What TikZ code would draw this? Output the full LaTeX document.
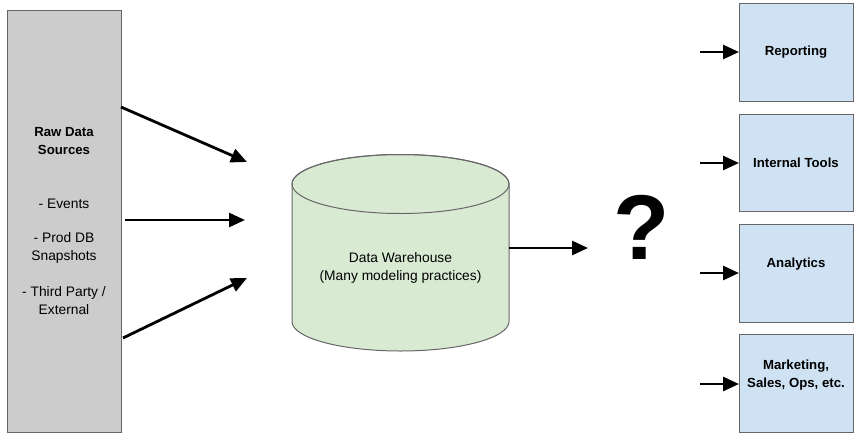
\documentclass[tikz,border=0pt]{standalone}
\usepackage{fontspec}
\setmainfont{Liberation Sans}
\usetikzlibrary{arrows.meta}
\definecolor{srcgray}{HTML}{CCCCCC}
\definecolor{dwgreen}{HTML}{D9EAD3}
\definecolor{outblue}{HTML}{CFE2F3}
\definecolor{edgegray}{HTML}{666666}
\begin{document}
\begin{tikzpicture}[x=1pt,y=-1pt,
  box/.style={draw=edgegray,line width=1pt,inner sep=0pt,anchor=north west},
  flow/.style={line width=2.8pt,-{Triangle[length=16pt,width=14pt]}},
  lbl/.style={font=\fontsize{13.8}{18}\selectfont,align=center},
  blbl/.style={font=\fontsize{13.2}{18}\selectfont\bfseries,align=center}]
\useasboundingbox (0,0) rectangle (866,445);
% left source box
\node[box,fill=srcgray,minimum width=114pt,minimum height=422pt] (src) at (7,10) {};
\node[blbl] (srct) at (64,141.5) {Raw Data\\Sources};
\node[lbl] (ev) at (64,204) {- Events};
\node[lbl] (pd) at (64,248) {- Prod DB\\Snapshots};
\node[lbl] (tp) at (64,301) {- Third Party /\\External};
% cylinder
\filldraw[draw=edgegray,line width=1pt,fill=dwgreen]
  (292,184) -- (292,321.5) arc[start angle=180,end angle=360,x radius=108.5pt,y radius=29.5pt]
  -- (509,184) arc[start angle=0,end angle=180,x radius=108.5pt,y radius=29.5pt] -- cycle;
\draw[edgegray,line width=1pt] (400.5,184) ellipse[x radius=108.5pt,y radius=29.5pt];
\node[lbl] (dw) at (400.5,267.5) {Data Warehouse\\(Many modeling practices)};
% input arrows
\coordinate (a1s) at (121,107); \coordinate (a1e) at (247,162);
\coordinate (a2s) at (125,220); \coordinate (a2e) at (245,220);
\coordinate (a3s) at (123,338); \coordinate (a3e) at (247,278);
\draw[flow] (a1s) -- (a1e);
\draw[flow] (a2s) -- (a2e);
\draw[flow] (a3s) -- (a3e);
% output arrow
\coordinate (dwe) at (509,248); \coordinate (qe) at (588,248);
\draw[flow] (dwe) -- (qe);
\node[font=\fontsize{92}{92}\selectfont\bfseries,inner sep=0pt] (q) at (642,227) {?};
% output boxes
\node[box,fill=outblue,minimum width=114pt,minimum height=98pt] (r1) at (739,3) {};
\node[box,fill=outblue,minimum width=114pt,minimum height=97pt] (r2) at (739,114) {};
\node[box,fill=outblue,minimum width=114pt,minimum height=98pt] (r3) at (739,224) {};
\node[box,fill=outblue,minimum width=114pt,minimum height=98pt] (r4) at (739,334) {};
\node[blbl] (t1) at (796,52) {Reporting};
\node[blbl] (t2) at (796,163) {Internal Tools};
\node[blbl] (t3) at (796,264) {Analytics};
\node[blbl] (t4) at (796,375) {Marketing,\\Sales, Ops, etc.};
\coordinate (b1) at (700,52);
\coordinate (b2) at (700,163);
\coordinate (b3) at (700,273);
\coordinate (b4) at (700,384);
\draw[flow] (b1) -- (r1.west |- b1);
\draw[flow] (b2) -- (r2.west |- b2);
\draw[flow] (b3) -- (r3.west |- b3);
\draw[flow] (b4) -- (r4.west |- b4);
\end{tikzpicture}
\end{document}
